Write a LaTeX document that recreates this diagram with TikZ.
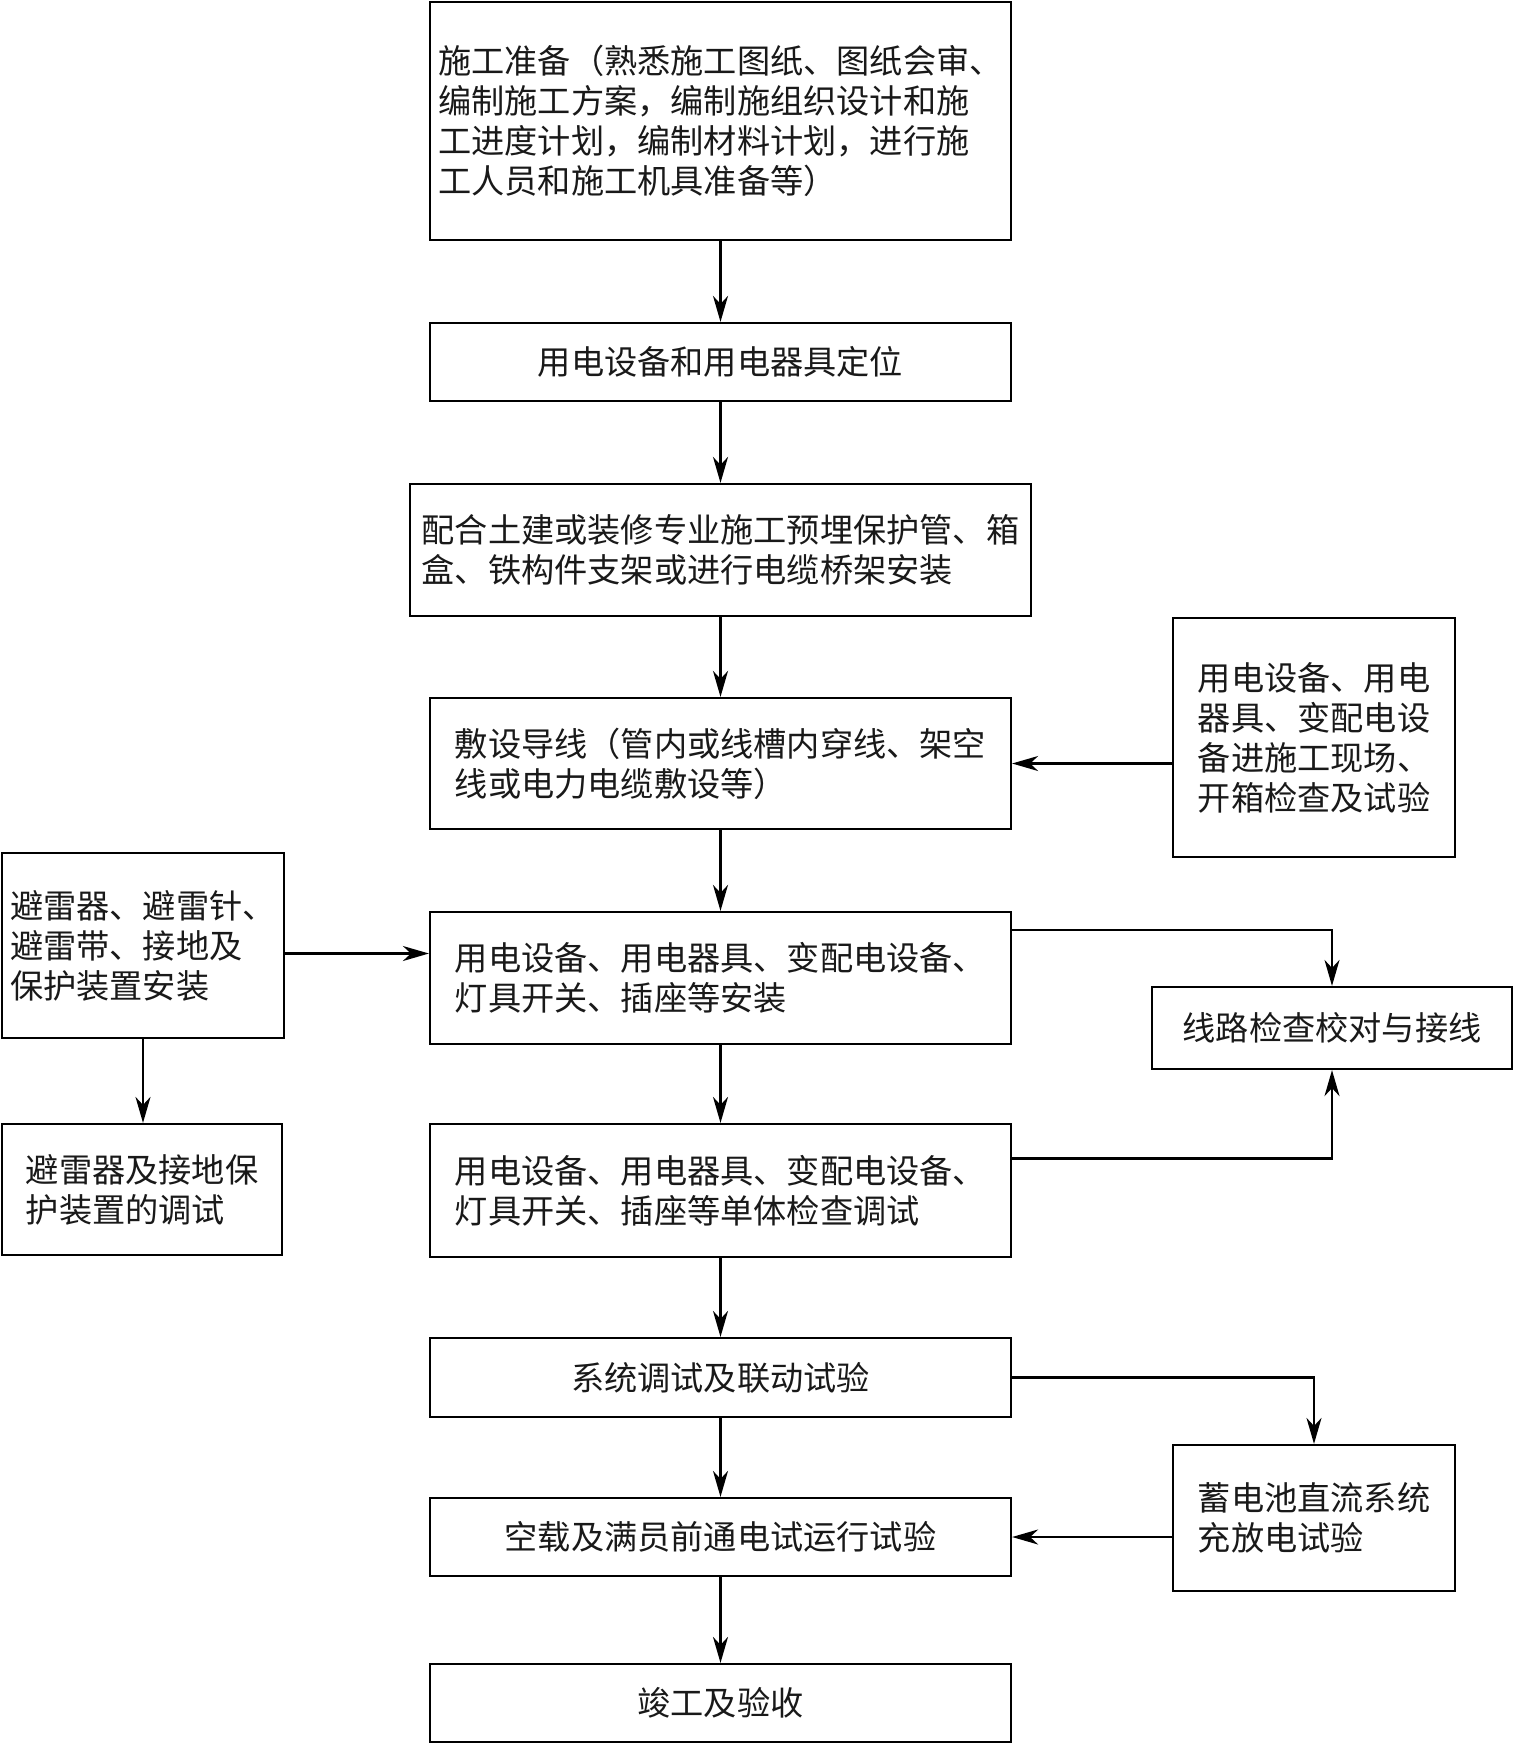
\documentclass[tikz,border=0pt]{standalone}
\usepackage{fontspec}
\setmainfont{Noto Sans CJK SC}
\usetikzlibrary{arrows.meta}
\tikzset{
  box/.style={draw, line width=2.2pt, inner sep=0pt, align=left, text=black!90,
    font=\fontsize{33.2}{40}\selectfont},
  arr/.style={line width=2.2pt, -{Stealth[length=26pt,width=15pt,inset=8pt]}}
}
\begin{document}
\begin{tikzpicture}[x=1pt,y=-1pt]
\useasboundingbox (0,0) rectangle (1514,1746);
\node[box, minimum width=581pt, minimum height=238pt] (b1) at (720.5,121)
  {施工准备（熟悉施工图纸、图纸会审、\\编制施工方案，编制施组织设计和施\\工进度计划，编制材料计划，进行施\\工人员和施工机具准备等）};
\node[box, minimum width=581pt, minimum height=78pt] (b2) at (720.5,362)
  {用电设备和用电器具定位};
\node[box, minimum width=621pt, minimum height=132pt] (b3) at (720.5,550)
  {配合土建或装修专业施工预埋保护管、箱\\盒、铁构件支架或进行电缆桥架安装};
\node[box, minimum width=581pt, minimum height=131pt] (b4) at (720.5,763.5)
  {敷设导线（管内或线槽内穿线、架空\\线或电力电缆敷设等）};
\node[box, minimum width=282pt, minimum height=239pt] (A) at (1314,737.5)
  {用电设备、用电\\器具、变配电设\\备进施工现场、\\开箱检查及试验};
\node[box, minimum width=282pt, minimum height=185pt] (L1) at (143,945.5)
  {避雷器、避雷针、\\避雷带、接地及\\保护装置安装};
\node[box, minimum width=581pt, minimum height=132pt] (b5) at (720.5,978)
  {用电设备、用电器具、变配电设备、\\灯具开关、插座等安装};
\node[box, minimum width=360pt, minimum height=82pt] (B) at (1332,1028)
  {线路检查校对与接线};
\node[box, minimum width=280pt, minimum height=131pt] (L2) at (142,1189.5)
  {避雷器及接地保\\护装置的调试};
\node[box, minimum width=581pt, minimum height=133pt] (b6) at (720.5,1190.5)
  {用电设备、用电器具、变配电设备、\\灯具开关、插座等单体检查调试};
\node[box, minimum width=581pt, minimum height=79pt] (b7) at (720.5,1377.5)
  {系统调试及联动试验};
\node[box, minimum width=282pt, minimum height=146pt] (C) at (1314,1518)
  {蓄电池直流系统\\充放电试验};
\node[box, minimum width=581pt, minimum height=78pt] (b8) at (720.5,1537)
  {空载及满员前通电试运行试验};
\node[box, minimum width=581pt, minimum height=78pt] (b9) at (720.5,1703)
  {竣工及验收};

\draw[arr] (b1.south) -- (b2.north);
\draw[arr] (b2.south) -- (b3.north);
\draw[arr] (b3.south) -- (b4.north);
\draw[arr] (b4.south) -- (b5.north);
\draw[arr] (b5.south) -- (b6.north);
\draw[arr] (b6.south) -- (b7.north);
\draw[arr] (b7.south) -- (b8.north);
\draw[arr] (b8.south) -- (b9.north);
\draw[arr] (A.west |- b4.east) -- (b4.east);
\draw[arr] ([yshift=-8pt]L1.east) -- ([yshift=-8pt]L1.east -| b5.west);
\draw[arr] (L1.south) -- (L1.south |- L2.north);
\draw[arr] ([yshift=48pt]b5.east) -| (B.north);
\draw[arr] ([yshift=32pt]b6.east) -| (B.south);
\draw[arr] (b7.east) -| (C.north);
\draw[arr] (C.west |- b8.east) -- (b8.east);
\end{tikzpicture}
\end{document}
